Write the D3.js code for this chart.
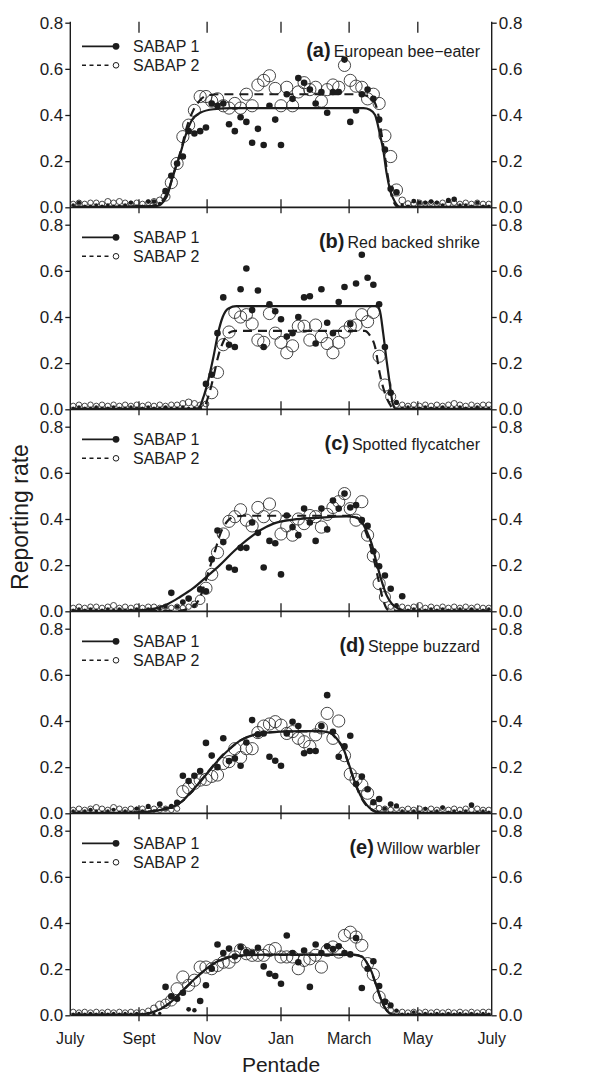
<!DOCTYPE html>
<html>
<head>
<meta charset="utf-8">
<script src="https://cdn.jsdelivr.net/npm/d3@7"></script>
<style>
  body { margin: 0; background: #fff; }
  text { font-family: "Liberation Sans", Arial, Helvetica, sans-serif; fill: #1c1c1c; }
</style>
</head>
<body>
<svg id="chart" width="614" height="1078"></svg>
<script>
// pentades 1..73, July to July
var pentades = d3.range(1, 74);
var monthTicks = [0.5, 12.4, 24.2, 37, 48.8, 60.7, 73.5];
var monthLabels = ["July", "Sept", "Nov", "Jan", "March", "May", "July"];
var yTicks = [0, 0.2, 0.4, 0.6, 0.8];
var seriesNames = ["SABAP 1", "SABAP 2"];

// (a) European bee-eater
var beeS1 = [0.01,0.02,0.005,0.005,0.01,0.005,0.01,0.005,0.005,0.01,0.02,0.005,0.005,0.025,0.025,0.015,
  0.07,0.137,0.19,0.22,0.33,0.32,0.33,0.346,0.45,0.44,0.45,0.36,0.33,0.39,0.37,0.28,0.34,0.27,0.44,0.38,
  0.27,0.49,0.47,0.56,0.54,0.51,0.45,0.50,0.41,0.50,0.50,0.64,0.37,0.42,0.49,0.51,0.47,0.38,0.25,0.08,
  0.065,0.01,0.005,0.027,0.02,0.02,0.025,0.02,0.01,0.03,0.035,0.01,0.01,0.005,0.02,0.005,0.005];
var beeS2 = [0.015,0.02,0.015,0.02,0.02,0.015,0.025,0.02,0.025,0.02,0.015,0.02,0.015,0.02,0.025,0.03,
  0.046,0.107,0.19,0.306,0.356,0.42,0.48,0.48,0.46,0.47,0.44,0.43,0.45,0.43,0.49,0.44,0.53,0.55,0.57,0.515,
  0.44,0.52,0.44,0.50,0.54,0.51,0.52,0.46,0.51,0.53,0.52,0.615,0.55,0.525,0.52,0.47,0.49,0.45,0.31,0.22,
  0.075,0.03,0.017,0.015,0.02,0.015,0.02,0.015,0.02,0.015,0.02,0.015,0.02,0.015,0.02,0.015,0.015];
var beeFit1 = [[1,0.002],[15.4,0.005],[17.2,0.046],[18.3,0.14],[19.5,0.227],[20.4,0.306],[21.5,0.375],
  [23,0.41],[25.3,0.425],[28.7,0.43],[51.3,0.43],[52.4,0.423],[53.3,0.4],[54.1,0.32],[54.7,0.25],
  [55.3,0.147],[55.9,0.075],[56.7,0.025],[57.6,0.002],[73,0.002]];
var beeFit2 = [[1,0.002],[14,0.003],[16,0.017],[17.5,0.075],[18.6,0.16],[19.8,0.26],[20.6,0.34],[21.8,0.42],
  [23,0.465],[24.4,0.486],[26.4,0.49],[50.7,0.49],[51.8,0.483],[53,0.465],[53.8,0.408],[54.4,0.32],
  [55,0.22],[55.6,0.12],[56.4,0.03],[57.3,0.002],[73,0.002]];

// (b) Red backed shrike
var shrikeS1 = [0.005,0.01,0.005,0.005,0.01,0.005,0.005,0.01,0.005,0.005,0.01,0.005,0.005,0.01,0.005,0.005,
  0.01,0.005,0.005,0.01,0.005,0.005,
  0.01,0.11,0.15,0.33,0.485,0.28,0.27,0.52,0.61,0.43,0.515,0.27,0.455,0.425,0.39,0.315,0.33,0.40,0.485,
  0.49,0.285,0.52,0.375,0.33,0.465,0.53,0.37,0.545,0.67,0.57,0.54,0.455,0.27,0.072,0.03,
  0.005,0.01,0.005,0.005,0.01,0.005,0.005,0.01,0.005,0.005,0.01,0.005,0.005,0.01,0.005,0.005];
var shrikeS2 = [0.015,0.02,0.015,0.02,0.015,0.02,0.015,0.02,0.015,0.02,0.015,0.02,0.015,0.02,0.015,0.02,0.015,0.02,
  0.02,0.025,0.03,0.025,0.02,0.023,0.072,0.16,0.28,0.335,0.42,0.40,0.41,0.37,0.30,0.29,0.415,0.33,0.29,
  0.245,0.275,0.36,0.36,0.30,0.365,0.315,0.285,0.245,0.29,0.335,0.36,0.365,0.41,0.38,0.42,0.23,0.105,0.055,0.02,
  0.02,0.015,0.02,0.015,0.02,0.015,0.02,0.015,0.02,0.025,0.02,0.015,0.02,0.015,0.02,0.02];
var shrikeFit1 = [[1,0.002],[21.5,0.002],[22.7,0.004],[23.5,0.048],[24.4,0.127],[25.3,0.228],[26.1,0.33],
  [26.9,0.4],[27.9,0.437],[29.3,0.447],[31.6,0.447],[53.6,0.447],[54.1,0.43],[54.7,0.33],[55.3,0.21],
  [55.9,0.1],[56.4,0.02],[56.9,0.002],[73,0.002]];
var shrikeFit2 = [[1,0.002],[22.5,0.002],[23.5,0.004],[24.4,0.055],[25.3,0.14],[26.1,0.228],[27,0.293],
  [27.9,0.33],[29,0.34],[51.5,0.34],[52.4,0.32],[53.3,0.27],[54.1,0.156],[55,0.07],[55.9,0.02],
  [56.5,0.002],[73,0.002]];

// (c) Spotted flycatcher
var flyS1 = [0.005,0.01,0.005,0.01,0.005,0.005,0.01,0.005,0.01,0.005,0.005,0.01,0.005,0.01,0.005,0.01,
  0.02,0.08,0.02,0.04,0.055,0.025,0.095,0.087,0.225,0.35,0.30,0.19,0.18,0.275,0.275,0.385,0.34,0.19,0.305,
  0.295,0.16,0.415,0.365,0.33,0.445,0.385,0.305,0.445,0.355,0.48,0.445,0.51,0.45,0.46,0.395,0.37,0.26,
  0.195,0.155,0.098,0.026,0.065,
  0.005,0.01,0.005,0.005,0.01,0.005,0.01,0.005,0.005,0.01,0.005,0.01,0.005,0.005,0.01];
var flyS2 = [0.015,0.02,0.015,0.02,0.02,0.015,0.02,0.025,0.015,0.02,0.015,0.02,0.015,0.02,0.02,0.015,0.02,0.015,0.02,0.015,
  0.02,0.03,0.05,0.10,0.16,0.255,0.335,0.39,0.41,0.44,0.395,0.37,0.45,0.41,0.465,0.41,0.335,0.37,0.33,0.40,
  0.38,0.415,0.41,0.365,0.42,0.45,0.475,0.51,0.445,0.395,0.475,0.33,0.24,0.12,0.062,0.02,
  0.015,0.02,0.015,0.02,0.025,0.015,0.02,0.015,0.02,0.015,0.02,0.015,0.02,0.015,0.02,0.015,0.015];
var flyFit1 = [[1,0.002],[8,0.002],[12.6,0.004],[15.5,0.014],[17.5,0.033],[19.5,0.062],[21.8,0.1],
  [24.1,0.149],[26.4,0.2],[28.7,0.257],[31,0.307],[33.4,0.351],[35.7,0.38],[39.1,0.397],[43.2,0.405],
  [48.4,0.411],[49.8,0.408],[51,0.387],[51.8,0.35],[52.7,0.293],[53.6,0.206],[54.4,0.134],[55.3,0.069],
  [56.2,0.033],[57.3,0.012],[58.8,0.002],[73,0.002]];
var flyFit2 = [[1,0.002],[19,0.002],[20.6,0.007],[21.8,0.019],[23,0.062],[23.8,0.12],[24.7,0.192],
  [25.6,0.264],[26.4,0.33],[27.6,0.387],[28.7,0.408],[30.5,0.414],[48.9,0.414],[50.1,0.408],[51.2,0.372],
  [52.1,0.315],[53,0.235],[53.9,0.134],[54.7,0.048],[55.3,0.012],[55.9,0.002],[73,0.002]];

// (d) Steppe buzzard
var buzS1 = [0.01,0.005,0.01,0.015,0.01,0.005,0.01,0.015,0.005,0.01,0.005,
  0.02,0.01,0.03,0.01,0.04,0.02,0.03,0.046,0.163,0.14,0.163,0.183,0.305,0.25,0.20,0.325,0.226,0.238,0.206,
  0.307,0.404,0.342,0.346,0.245,0.228,0.206,0.346,0.397,0.378,0.26,0.27,0.27,0.378,0.512,0.353,0.245,0.29,
  0.336,0.127,0.159,0.104,0.048,0.062,0.02,0.04,0.032,
  0.01,0.005,0.01,0.005,0.019,0.005,0.01,0.025,0.005,0.01,0.005,0.01,0.036,0.005,0.01,0.005];
var buzS2 = [0.015,0.02,0.015,0.02,0.025,0.02,0.015,0.025,0.02,0.015,0.02,0.015,0.02,0.015,0.02,0.015,0.02,0.015,
  0.02,0.094,0.11,0.13,0.144,0.147,0.16,0.166,0.216,0.224,0.28,0.242,0.28,0.28,0.35,0.378,0.387,0.397,0.382,
  0.346,0.354,0.325,0.31,0.29,0.34,0.37,0.433,0.325,0.40,0.25,0.17,0.147,0.123,0.087,0.032,0.022,
  0.02,0.015,0.02,0.015,0.02,0.015,0.02,0.015,0.02,0.015,0.02,0.015,0.02,0.015,0.02,0.015,0.02,0.015,0.015];
var buzFit1 = [[1,0.002],[8,0.002],[12.6,0.004],[16,0.014],[18.3,0.029],[19.8,0.05],[21.2,0.087],[23,0.137],
  [24.7,0.188],[26.4,0.238],[28.2,0.281],[29.9,0.315],[32.2,0.339],[34.5,0.349],[37.4,0.354],[40.3,0.356],
  [43.7,0.356],[45.5,0.349],[46.6,0.325],[47.8,0.281],[48.9,0.202],[50.1,0.115],[51.2,0.058],[52.4,0.022],
  [54.1,0.004],[56,0.002],[73,0.002]];
var buzFit2 = [[1,0.002],[10,0.002],[13,0.005],[16,0.015],[18.5,0.032],[20,0.055],[21.5,0.092],[23,0.138],
  [24.7,0.19],[26.4,0.24],[28.2,0.282],[30,0.316],[32.2,0.34],[34.5,0.35],[37.4,0.354],[40.3,0.355],
  [43.7,0.355],[45.5,0.348],[46.6,0.322],[47.8,0.278],[48.9,0.198],[50.1,0.112],[51.2,0.055],[52.4,0.02],
  [54.1,0.003],[56,0.002],[73,0.002]];

// (e) Willow warbler
var wilS1 = [0.005,0.008,0.005,0.008,0.005,0.008,0.005,0.008,0.005,0.008,0.005,0.008,0.005,0.008,0.005,0.008,
  0.123,0.082,0.072,0.098,0.026,0.022,0.062,0.13,0.202,0.307,0.27,0.289,0.255,0.296,0.274,0.27,0.293,0.212,
  0.18,0.17,0.137,0.346,0.27,0.23,0.281,0.123,0.307,0.27,0.299,0.287,0.299,0.27,0.264,0.335,0.118,0.202,
  0.234,0.127,0.058,0.043,0.02,
  0.005,0.005,0.014,0.005,0.008,0.005,0.008,0.005,0.008,0.005,0.008,0.005,0.008,0.005,0.008,0.005];
var wilS2 = [0.015,0.012,0.015,0.012,0.015,0.012,0.015,0.012,0.015,0.012,0.015,0.012,
  0.014,0.02,0.03,0.043,0.05,0.065,0.115,0.166,0.13,0.152,0.209,0.209,0.202,0.216,0.23,0.23,0.253,0.284,
  0.267,0.26,0.26,0.26,0.281,0.289,0.253,0.253,0.253,0.202,0.238,0.245,0.26,0.209,0.281,0.296,0.274,0.346,
  0.36,0.339,0.303,0.224,0.177,0.079,0.05,0.022,0.014,
  0.015,0.012,0.015,0.012,0.015,0.012,0.015,0.012,0.015,0.012,0.015,0.012,0.015,0.012,0.015,0.015];
var wilFit1 = [[1,0.002],[10,0.002],[12.6,0.003],[14.9,0.014],[17.2,0.043],[18.9,0.079],[20.6,0.123],
  [22.4,0.166],[24.1,0.202],[25.8,0.231],[28.2,0.253],[30.5,0.26],[34.5,0.263],[49.5,0.263],[51,0.255],
  [51.8,0.231],[52.7,0.188],[53.6,0.123],[54.4,0.065],[55.3,0.022],[56.4,0.003],[57.6,0.002],[73,0.002]];
var wilFit2 = [[1,0.002],[10,0.002],[12.8,0.003],[15,0.015],[17.2,0.044],[18.9,0.08],[20.6,0.122],
  [22.4,0.165],[24.1,0.201],[25.8,0.23],[28.2,0.252],[30.5,0.259],[34.5,0.262],[49.5,0.262],[51,0.254],
  [51.8,0.23],[52.7,0.186],[53.6,0.121],[54.4,0.063],[55.3,0.021],[56.4,0.003],[57.6,0.002],[73,0.002]];

var panels = [
  {letter: "(a)", name: "European bee\u2212eater", s1: beeS1, s2: beeS2, fit1: beeFit1, fit2: beeFit2},
  {letter: "(b)", name: "Red backed shrike", s1: shrikeS1, s2: shrikeS2, fit1: shrikeFit1, fit2: shrikeFit2},
  {letter: "(c)", name: "Spotted flycatcher", s1: flyS1, s2: flyS2, fit1: flyFit1, fit2: flyFit2},
  {letter: "(d)", name: "Steppe buzzard", s1: buzS1, s2: buzS2, fit1: buzFit1, fit2: buzFit2},
  {letter: "(e)", name: "Willow warbler", s1: wilS1, s2: wilS2, fit1: wilFit1, fit2: wilFit2}
];

var ink = "#1c1c1c";
var svg = d3.select("#chart");
var left = 70.3, right = 491.7;
var firstZero = 207.3, step = 202, plotH = 184.6;

var x = d3.scaleLinear().domain([0.5, 73.5]).range([left, right]);
var openR = d3.scaleLinear().domain([0.02, 0.07]).range([2.7, 6.1]).clamp(true);
var dotR = d3.scaleLinear().domain([0.005, 0.05]).range([1.6, 3.3]).clamp(true);

panels.forEach(function(p, i) {
  var zero = firstZero + step * i;
  var y = d3.scaleLinear().domain([0, 0.8]).range([zero, zero - plotH]);
  var top = i === 0 ? y(0.8) - 1 : zero - step;
  var g = svg.append("g");

  // frame: left / right verticals and baseline
  g.append("line").attr("x1", left).attr("x2", left).attr("y1", top).attr("y2", zero)
    .attr("stroke", ink).attr("stroke-width", 1.4);
  g.append("line").attr("x1", right).attr("x2", right).attr("y1", top).attr("y2", zero)
    .attr("stroke", ink).attr("stroke-width", 1.4);
  g.append("line").attr("x1", left).attr("x2", right).attr("y1", zero).attr("y2", zero)
    .attr("stroke", ink).attr("stroke-width", 1.7);

  // month ticks across the baseline
  g.selectAll(".mt").data(monthTicks.slice(1, -1)).join("line")
    .attr("x1", d => x(d)).attr("x2", d => x(d))
    .attr("y1", zero - 8).attr("y2", zero + 6)
    .attr("stroke", ink).attr("stroke-width", 1.3);
  if (i === 0) {
    g.selectAll(".mtop").data(monthTicks.slice(1, -1)).join("line")
      .attr("x1", d => x(d)).attr("x2", d => x(d))
      .attr("y1", top).attr("y2", top + 11)
      .attr("stroke", ink).attr("stroke-width", 1.3);
  }

  // y axes both sides
  var yl = g.append("g").attr("transform", "translate(" + left + ",0)")
    .call(d3.axisLeft(y).tickValues(yTicks).tickSize(5).tickPadding(2).tickFormat(d3.format(".1f")));
  var yr = g.append("g").attr("transform", "translate(" + right + ",0)")
    .call(d3.axisRight(y).tickValues(yTicks).tickSize(5).tickPadding(2).tickFormat(d3.format(".1f")));
  [yl, yr].forEach(function(a) {
    a.select(".domain").remove();
    a.selectAll("line").attr("stroke", ink).attr("stroke-width", 1.3);
    a.selectAll("text").attr("font-size", "17px").attr("fill", ink)
      .style("font-family", "'Liberation Sans', Arial, sans-serif");
  });

  // points
  g.selectAll(".open").data(p.s2).join("circle")
    .attr("cx", (d, j) => x(pentades[j])).attr("cy", d => y(d))
    .attr("r", d => openR(d))
    .attr("fill", "none").attr("stroke", "#333").attr("stroke-width", 0.9);
  g.selectAll(".dot").data(p.s1).join("circle")
    .attr("cx", (d, j) => x(pentades[j])).attr("cy", d => y(d))
    .attr("r", d => dotR(d))
    .attr("fill", ink);

  // fitted curves
  var line = d3.line().x(d => x(d[0])).y(d => y(d[1])).curve(d3.curveMonotoneX);
  g.append("path").attr("d", line(p.fit2)).attr("fill", "none")
    .attr("stroke", ink).attr("stroke-width", 2.2).attr("stroke-dasharray", "9,6");
  g.append("path").attr("d", line(p.fit1)).attr("fill", "none")
    .attr("stroke", ink).attr("stroke-width", 2.2);

  // legend + title
  var head = zero - (i === 0 ? 161 : 172);
  g.append("line").attr("x1", 82).attr("x2", 115).attr("y1", head).attr("y2", head)
    .attr("stroke", ink).attr("stroke-width", 1.8);
  g.append("circle").attr("cx", 116).attr("cy", head).attr("r", 3.4).attr("fill", ink);
  g.append("line").attr("x1", 82).attr("x2", 112).attr("y1", head + 19).attr("y2", head + 19)
    .attr("stroke", ink).attr("stroke-width", 1.5).attr("stroke-dasharray", "4,3.5");
  g.append("circle").attr("cx", 116).attr("cy", head + 19).attr("r", 2.8)
    .attr("fill", "none").attr("stroke", ink).attr("stroke-width", 1);
  seriesNames.forEach(function(s, k) {
    g.append("text").attr("x", 133).attr("y", head + 19 * k + 6)
      .attr("font-size", "16px").text(s);
  });

  var t = g.append("text").attr("x", 480).attr("y", head + 11)
    .attr("text-anchor", "end");
  t.append("tspan").attr("font-size", "20px").attr("font-weight", "bold").text(p.letter);
  t.append("tspan").attr("dx", 3).attr("font-size", "16px").text(p.name);

  if (i === panels.length - 1) {
    g.selectAll(".ml").data(monthTicks).join("text")
      .attr("x", d => x(d)).attr("y", zero + 28.5)
      .attr("text-anchor", "middle").attr("font-size", "16px")
      .text((d, j) => monthLabels[j]);
    g.append("text").attr("x", (left + right) / 2).attr("y", zero + 56.5)
      .attr("text-anchor", "middle").attr("font-size", "21px").text("Pentade");
  }
});

svg.append("text")
  .attr("transform", "translate(28," + 517 + ") rotate(-90)")
  .attr("text-anchor", "middle").attr("font-size", "23px").text("Reporting rate");
</script>
</body>
</html>
